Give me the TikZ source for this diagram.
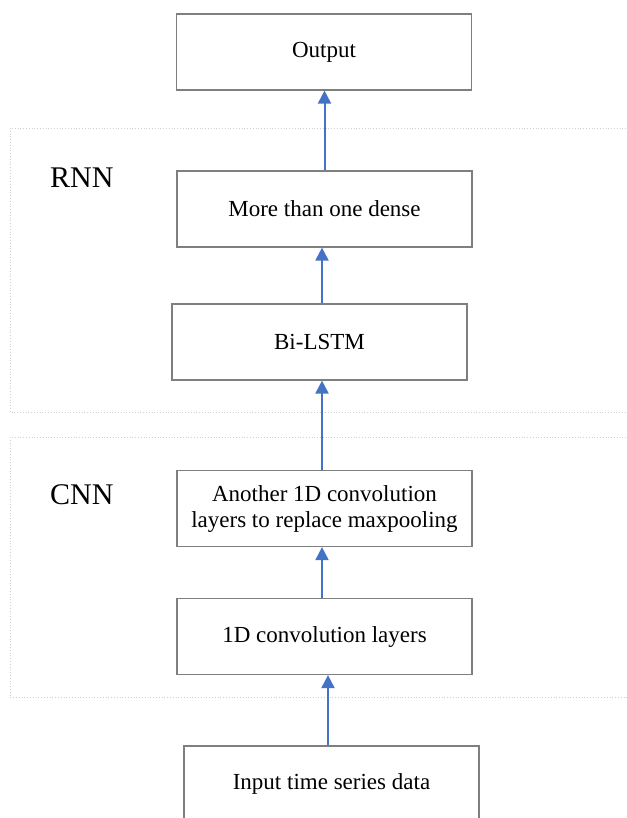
\documentclass[tikz,border=0pt]{standalone}
\usepackage{fontspec}
\setmainfont{Liberation Serif}
\usetikzlibrary{arrows.meta}
\definecolor{boxgray}{HTML}{7F7F7F}
\definecolor{groupgray}{HTML}{CFCFCF}
\definecolor{flowblue}{HTML}{4472C4}
\begin{document}
\begin{tikzpicture}[x=1pt,y=-1pt,
  layerbox/.style={draw=boxgray,line width=1.2pt,minimum width=295pt,minimum height=76pt,
    inner sep=0pt,align=center,font=\fontsize{23}{26}\selectfont},
  groupframe/.style={draw=groupgray,line width=0.8pt,dotted},
  grouplabel/.style={font=\fontsize{30}{32}\selectfont,anchor=west,inner sep=0pt},
  flow/.style={draw=flowblue,line width=2pt,-{Triangle[length=13pt,width=13pt]}}]
\useasboundingbox (0,0) rectangle (626,818);
% group frames
\draw[groupframe] (640,128) -- (10,128) -- (10,412) -- (640,412);
\draw[groupframe] (640,437) -- (10,437) -- (10,697) -- (640,697);
\node[grouplabel] (rnnlbl) at (50,178) {RNN};
\node[grouplabel] (cnnlbl) at (50,495) {CNN};
% layers
\node[layerbox] (out)   at (324,52)    {Output};
\node[layerbox] (dense) at (324.5,209) {More than one dense};
\node[layerbox] (lstm)  at (319.5,342) {Bi-LSTM};
\node[layerbox] (conv2) at (324.5,508.5) {Another 1D convolution\\layers to replace maxpooling};
\node[layerbox] (conv1) at (324.5,636.5) {1D convolution layers};
\node[layerbox] (inp)   at (331.5,784) {Input time series data};
% connections
\draw[flow] ([xshift=-3.5pt]inp.north) -- ([xshift=-3.5pt]inp.north |- conv1.south);
\draw[flow] ([xshift=-2.5pt]conv1.north) -- ([xshift=-2.5pt]conv1.north |- conv2.south);
\draw[flow] ([xshift=-2.5pt]conv2.north) -- ([xshift=-2.5pt]conv2.north |- lstm.south);
\draw[flow] ([xshift=2.5pt]lstm.north) -- ([xshift=2.5pt]lstm.north |- dense.south);
\draw[flow] (dense.north) -- (dense.north |- out.south);
\end{tikzpicture}
\end{document}
